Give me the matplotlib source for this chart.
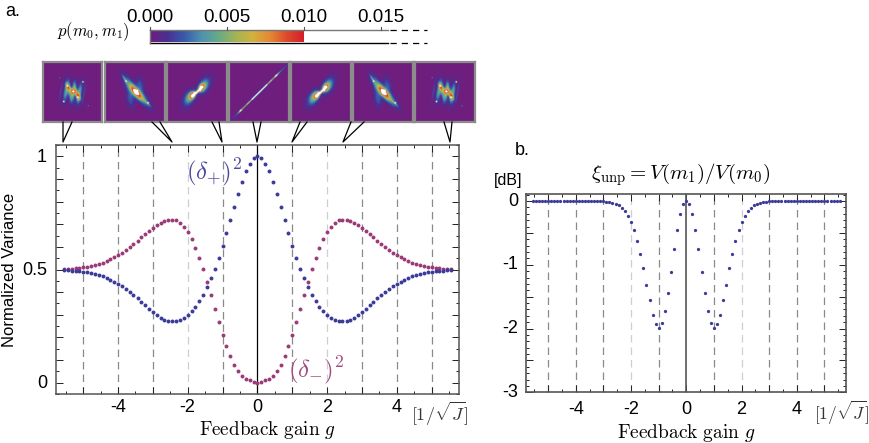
import numpy as np
import matplotlib
matplotlib.use("Agg")
import matplotlib.pyplot as plt
from matplotlib.colors import LinearSegmentedColormap
from matplotlib.lines import Line2D
from matplotlib.ticker import MultipleLocator

W, H = 869, 443
plt.rcParams["font.family"] = ["Liberation Sans", "DejaVu Sans"]
plt.rcParams["mathtext.fontset"] = "cm"

gain = [-5.56,-5.44,-5.33,-5.22,-5.11,-5.0,-4.89,-4.78,-4.67,-4.56,-4.44,-4.33,-4.22,-4.11,-4.0,-3.89,-3.78,-3.67,-3.56,-3.44,-3.33,-3.22,-3.11,-3.0,-2.89,-2.78,-2.67,-2.56,-2.44,-2.33,-2.22,-2.11,-2.0,-1.89,-1.78,-1.67,-1.56,-1.44,-1.33,-1.22,-1.11,-1.0,-0.89,-0.78,-0.67,-0.56,-0.44,-0.33,-0.22,-0.11,
        0.0,
        0.11,0.22,0.33,0.44,0.56,0.67,0.78,0.89,1.0,1.11,1.22,1.33,1.44,1.56,1.67,1.78,1.89,2.0,2.11,2.22,2.33,2.44,2.56,2.67,2.78,2.89,3.0,3.11,3.22,3.33,3.44,3.56,3.67,3.78,3.89,4.0,4.11,4.22,4.33,4.44,4.56,4.67,4.78,4.89,5.0,5.11,5.22,5.33,5.44,5.56]

delta_plus = [.496,.496,.495,.493,.492,.49,.487,.485,.48,.476,.47,.462,.455,.446,.437,.426,.415,.402,.387,.374,.358,.345,.327,.314,.297,.287,.278,.272,.271,.271,.275,.286,.297,.317,.336,.362,.389,.423,.462,.504,.551,.602,.66,.717,.778,.835,.888,.934,.968,.993,
              1.0,
              .993,.968,.934,.888,.835,.778,.717,.66,.602,.551,.504,.462,.423,.389,.362,.336,.317,.297,.286,.275,.271,.271,.272,.278,.287,.297,.314,.327,.345,.358,.374,.387,.402,.415,.426,.437,.446,.455,.462,.47,.476,.48,.485,.487,.49,.492,.493,.495,.496,.496]

delta_minus = [.502,.502,.504,.505,.508,.51,.512,.515,.52,.524,.53,.538,.545,.554,.563,.573,.585,.598,.613,.627,.642,.657,.672,.685,.697,.707,.716,.72,.72,.717,.707,.689,.666,.635,.596,.552,.502,.446,.387,.327,.268,.21,.16,.116,.08,.052,.031,.018,.01,.002,
               0.0,
               .002,.01,.018,.031,.052,.08,.116,.16,.21,.268,.327,.387,.446,.502,.552,.596,.635,.666,.689,.707,.717,.72,.72,.716,.707,.697,.685,.672,.657,.642,.627,.613,.598,.585,.573,.563,.554,.545,.538,.53,.524,.52,.515,.512,.51,.508,.505,.504,.502,.502]

xi_unp = [0,0,0,0,0,0,0,0,0,0,0,0,0,0,0,0,0,0,-.001,-.001,-.002,-.003,-.004,-.006,-.01,-.015,-.026,-.042,-.068,-.105,-.157,-.23,-.33,-.46,-.62,-.825,-1.05,-1.31,-1.56,-1.78,-1.93,-1.99,-1.92,-1.73,-1.45,-1.11,-.76,-.45,-.21,-.05,
          0.0,
          -.05,-.21,-.45,-.76,-1.11,-1.45,-1.73,-1.92,-1.99,-1.93,-1.78,-1.56,-1.31,-1.05,-.825,-.62,-.46,-.33,-.23,-.157,-.105,-.068,-.042,-.026,-.015,-.01,-.006,-.004,-.003,-.002,-.001,-.001,0,0,0,0,0,0,0,0,0,0,0,0,0,0,0,0,0,0]

x_ticks = [-4, -2, 0, 2, 4]
a_y_ticks = [0, 0.5, 1]
a_y_labels = ["0", "0.5", "1"]
b_y_ticks = [0, -1, -2, -3]
b_y_labels = ["0", "-1", "-2", "-3"]
guide_gains = [-5, -4, -3, -2, -1, 1, 2, 3, 4, 5]
cbar_ticks = [0.000, 0.005, 0.010, 0.015]

# Inset density sketches: (cx, cy, sigma_long, sigma_short, angle_deg, amplitude)
blobs_wide = [(.03,.02,.07,.05,-60,.55),(-.14,.15,.12,.045,-60,.42),(.2,-.13,.12,.045,-60,.42),
              (-.22,.02,.24,.055,80,.42),(.02,.0,.24,.05,80,.42),(.24,-.02,.24,.055,80,.42),
              (-.11,.02,.22,.045,-78,.34),(.13,-.02,.22,.045,-78,.34),
              (-.40,.02,.30,.014,80,.24),(.40,-.02,.30,.014,80,.24),(-.02,.0,.36,.016,-75,.16)]
spots_wide = [(-.30,-.32),(.36,.34),(.03,.02),(-.18,.2),(.18,-.18)]
faint_spots_wide = [(-.44,.48),(.54,-.46)]
blobs_mid = [(.02,.0,.07,.055,-65,.8),(-.07,.1,.12,.07,-62,.5),(.11,-.11,.12,.07,-55,.5),
             (-.2,.24,.24,.09,-60,.38),(.23,-.22,.26,.09,-50,.38),
             (-.36,.44,.12,.018,-60,.3),(.38,-.36,.12,.018,-45,.3),
             (.15,.2,.2,.09,-80,.22),(-.17,-.22,.2,.09,-80,.22)]
spots_mid = [(-.31,.37),(.42,-.37),(.0,-.02),(.03,.05),(.07,.05)]
faint_spots_mid = []
blobs_narrow = [(.15,.15,.08,.06,60,.82),(-.15,-.11,.08,.06,60,.82),
                (.22,.20,.16,.10,65,.38),(-.24,-.18,.16,.10,65,.38),
                (.3,.28,.24,.13,65,.13),(-.32,-.26,.24,.13,65,.13),
                (.0,.0,.11,.024,45,1.9),(.11,.1,.05,.02,80,1.5),(-.1,-.08,.05,.02,80,1.5)]
spots_narrow = []
faint_spots_narrow = []
blobs_line = [(0,0,.42,.010,45,1.6),(.55,.55,.06,.016,45,.95),(-.62,-.62,.06,.016,45,.95),(.0,.0,.74,.016,45,.42),(.0,.0,.85,.03,45,.12)]
spots_line = []
faint_spots_line = []
inset_order = [(blobs_wide, spots_wide, faint_spots_wide), (blobs_mid, spots_mid, faint_spots_mid),
               (blobs_narrow, spots_narrow, faint_spots_narrow), (blobs_line, spots_line, faint_spots_line),
               (blobs_narrow, spots_narrow, faint_spots_narrow), (blobs_mid, spots_mid, faint_spots_mid),
               (blobs_wide, spots_wide, faint_spots_wide)]
inset_boxes = [(43,102),(104.5,165),(167,227),(228.5,289),(290.5,350.5),(352.5,412.5),(414.5,475)]
# callout wedges in pixels: base-left x, base-right x, tip x
callouts = [(63,72,63),(152,160,172),(212,219,222),(253,261,257),(300,307,292),(351,364,343),(444,452,450)]

density_cmap = LinearSegmentedColormap.from_list("density",
    ["#6f1e7e","#4b2f92","#3a5aaa","#4d93b0","#66ab88","#a2b455","#d2b23e","#e48a35","#dd4b2c","#d31f2a"])
density_cmap.set_over("white")

fig = plt.figure(figsize=(W / 100, H / 100), dpi=100, facecolor="white")

def ax_px(l, t, r, b, **kw):
    return fig.add_axes([l / W, 1 - b / H, (r - l) / W, (b - t) / H], **kw)

def fx(x): return x / W
def fy(y): return 1 - y / H

def line_px(xs, ys, **kw):
    fig.add_artist(Line2D([fx(v) for v in xs], [fy(v) for v in ys], transform=fig.transFigure, **kw))

def txt(x, y, s, **kw):
    kw.setdefault("ha", "left"); kw.setdefault("va", "center")
    fig.text(fx(x), fy(y), s, **kw)

BLUE = "#3b3b98"
RED = "#9a3a78"

def style_axes(ax, xminor, ymajor, yminor, spine, lw):
    ax.xaxis.set_major_locator(MultipleLocator(1))
    ax.xaxis.set_minor_locator(MultipleLocator(xminor))
    ax.yaxis.set_major_locator(MultipleLocator(ymajor))
    ax.yaxis.set_minor_locator(MultipleLocator(yminor))
    ax.tick_params(which="major", direction="in", top=True, right=True, length=5, width=0.7,
                   color="#222222", labelbottom=False, labelleft=False)
    ax.tick_params(which="minor", direction="in", top=True, right=True, length=2.5, width=0.7, color="#222222")
    for s in ax.spines.values():
        s.set_color(spine); s.set_linewidth(lw)
    for g in guide_gains:
        faint = abs(g) == 2
        ax.axvline(g, color="#cfcfcf" if faint else "#8a8a8a", lw=0.9, dashes=(6, 4), zorder=1)

# panel a
ax = ax_px(56, 145, 458.5, 394)
ax.set_xlim(-5.78, 5.77); ax.set_ylim(-0.05, 1.05)
style_axes(ax, 0.5, 0.1, 0.05, "#555555", 1.1)
ax.axvline(0, color="black", lw=0.9, zorder=2)
ax.scatter(gain, delta_minus, s=8, color=RED, lw=0, zorder=3)
ax.scatter(gain, delta_plus, s=8, color=BLUE, lw=0, zorder=4)
for t in x_ticks:
    txt(257.3 + t * 34.85, 408, str(t), ha="center", fontsize=13)
for t, lab in zip(a_y_ticks, a_y_labels):
    txt(47, 383.5 - t * 226.3, lab, ha="right", fontsize=13)
txt(10, 270, "Normalized Variance", rotation=90, ha="center", fontsize=12)
txt(199, 430, r"$\mathrm{Feedback\ gain}\ g$", fontsize=13.8)
txt(411, 414, r"$[1/\sqrt{J}]$", fontsize=13, color="#333333")
txt(186, 172, r"$(\delta_{+})^{2}$", fontsize=18, color="#4a4a9e")
txt(288, 370, r"$(\delta_{-})^{2}$", fontsize=18, color="#a04a80")

# panel b
bx = ax_px(526, 194.3, 846, 392.3)
bx.set_xlim(-5.8, 5.78); bx.set_ylim(-3, 0.105)
style_axes(bx, 0.5, 0.5, 0.1, "#555555", 1.2)
bx.axvline(0, color="#555555", lw=1.2, zorder=2)
bx.scatter(gain, xi_unp, s=5.5, color=BLUE, lw=0, zorder=3)
for t in x_ticks:
    txt(686.3 + t * 27.65, 409, str(t), ha="center", fontsize=13)
for t, lab in zip(b_y_ticks, b_y_labels):
    txt(518, 201 - t * 63.8, lab, ha="right", fontsize=13)
txt(494, 180, "[dB]", fontsize=11.5)
txt(591, 175, r"$\xi_{\mathrm{unp}} = V(m_1)/V(m_0)$", fontsize=15)
txt(617, 433, r"$\mathrm{Feedback\ gain}\ g$", fontsize=14)
txt(814, 413, r"$[1/\sqrt{J}]$", fontsize=12.5, color="#333333")

txt(5, 11, "a.", fontsize=13)
txt(515, 150, "b.", fontsize=13)

# colour bar
cbar_max = 0.010
cax = ax_px(150, 31, 304, 42.5)
cax.imshow(np.linspace(0, 1, 256)[None, :], aspect="auto", cmap=density_cmap, vmin=0, vmax=1,
           extent=[0, cbar_max, 0, 1])
cax.axis("off")
px_per_unit = (304 - 150) / cbar_max
line_px([150, 388], [30, 30], color="#777777", lw=1)
line_px([150, 388], [42.5, 42.5], color="black", lw=1)
line_px([150, 150], [30, 42.5], color="#777777", lw=1)
line_px([390, 427], [30, 30], color="black", lw=0.9, dashes=(5, 4))
line_px([390, 427], [42.5, 42.5], color="black", lw=0.9, dashes=(5, 4))
for t in cbar_ticks:
    xp = 150 + t * px_per_unit
    line_px([xp, xp], [27, 30], color="#555555", lw=0.8)
    txt(xp, 18, f"{t:.3f}", ha="center", fontsize=13.5)
txt(57, 32, r"$p(m_0, m_1)$", fontsize=12)

# insets
grid = np.linspace(-1, 1, 130)
GX, GY = np.meshgrid(grid, grid)
for (blobs, spots, faint_spots), (l, r) in zip(inset_order, inset_boxes):
    Z = np.zeros_like(GX)
    for cx, cy, sl, ss, ang, amp in blobs:
        th = np.deg2rad(ang)
        u = (GX - cx) * np.cos(th) + (GY - cy) * np.sin(th)
        v = -(GX - cx) * np.sin(th) + (GY - cy) * np.cos(th)
        Z += amp * np.exp(-0.5 * ((u / sl) ** 2 + (v / ss) ** 2))
    for sx, sy in spots:
        Z += 3 * np.exp(-0.5 * (((GX - sx) ** 2 + (GY - sy) ** 2) / 0.014 ** 2))
    for sx, sy in faint_spots:
        Z += 0.45 * np.exp(-0.5 * (((GX - sx) ** 2 + (GY - sy) ** 2) / 0.016 ** 2))
    iax = ax_px(l, 61.7, r, 121.7)
    iax.imshow(Z, origin="lower", extent=[-1, 1, -1, 1], cmap=density_cmap, vmin=0, vmax=1,
               aspect="auto", interpolation="bilinear")
    iax.set_xticks([]); iax.set_yticks([])
    for s in iax.spines.values():
        s.set_color("#8c8c8c"); s.set_linewidth(1.6)

for bl, br, tip in callouts:
    line_px([bl, tip, br], [122, 142, 122], color="black", lw=0.9)

fig.savefig("out.png", dpi=100)
